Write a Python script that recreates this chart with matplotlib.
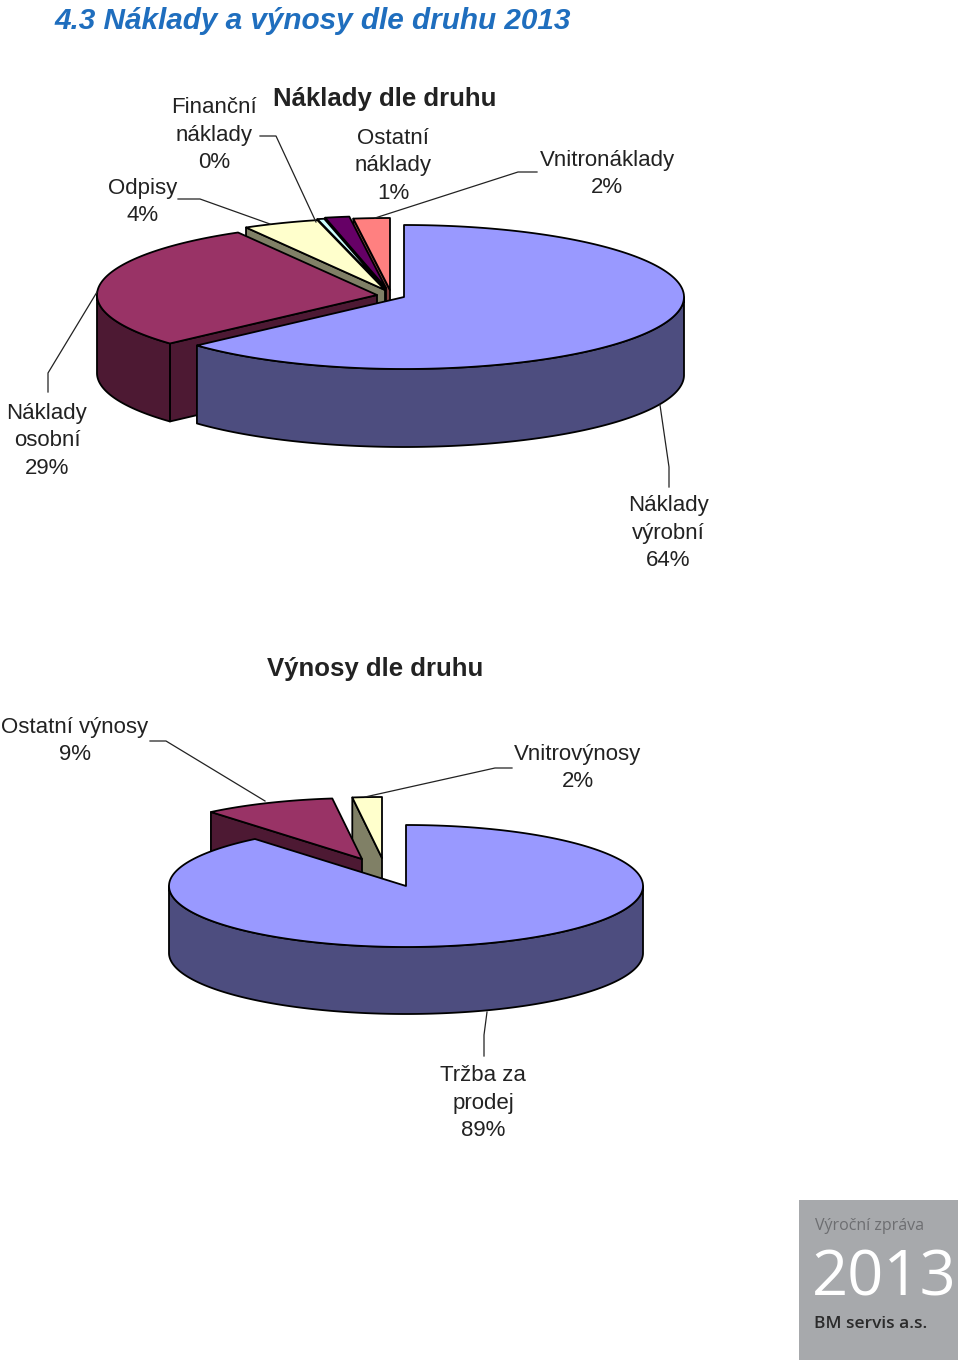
import numpy as np
import matplotlib
matplotlib.use("Agg")
import matplotlib.pyplot as plt

plt.rcParams['font.family'] = ['Liberation Sans', 'DejaVu Sans']

# naklady
cost_names = ["Náklady\nvýrobní", "Náklady\nosobní", "Odpisy", "Finanční\nnáklady", "Ostatní\nnáklady", "Vnitronáklady"]
cost_values = [63.5, 28.6, 4.4, 0.4, 1.4, 2.1]

# vynosy
income_names = ["Tržba za\nprodej", "Ostatní výnosy", "Vnitrovýnosy"]
income_values = [89.0, 9.0, 2.0]

top_colors = ["#9999FF", "#993366", "#FFFFCC", "#CCFFFF", "#660066", "#FF8080"]
wall_colors = ["#4D4D7F", "#4D1933", "#808066", "#668080", "#330033", "#804040"]
income_top = ["#9999FF", "#993366", "#FFFFCC"]
income_wall = ["#4D4D7F", "#4D1933", "#808066"]

# where the tip of each slice sits, slices are pulled apart
cost_tips = [(404, 297), (377, 295), (385, 290), (385, 289), (386, 288), (390, 290)]
income_tips = [(406, 886), (362, 859), (382, 858)]


def rim(cx, cy, rx, ry, a0, a1):
    t = np.radians(np.linspace(a0, a1, max(int(abs(a1 - a0)) * 2, 2)))
    return cx + rx * np.sin(t), cy - ry * np.cos(t)


def draw_slice(ax, tip, rx, ry, depth, a0, a1, top, wall):
    cx, cy = tip
    # cut face on the starting side
    if np.sin(np.radians(a0)) < 0:
        x, y = rim(cx, cy, rx, ry, a0, a0)
        px = [cx, x[0], x[0], cx]
        py = [cy, y[0], y[0] + depth, cy + depth]
        ax.fill(px, py, fc=wall, ec="black", lw=1.3, joinstyle="round")
    # outer wall, only the front half can be seen
    w0, w1 = max(a0, 90), min(a1, 270)
    if w1 > w0:
        x, y = rim(cx, cy, rx, ry, w0, w1)
        px = np.r_[x, x[::-1]]
        py = np.r_[y, y[::-1] + depth]
        ax.fill(px, py, fc=wall, ec="black", lw=1.3, joinstyle="round")
    x, y = rim(cx, cy, rx, ry, a0, a1)
    ax.fill(np.r_[cx, x], np.r_[cy, y], fc=top, ec="black", lw=1.3, joinstyle="round")


def draw_pie(ax, values, tips, rx, ry, depth, tops, walls):
    total = sum(values)
    edges = np.r_[0, np.cumsum(values)] / total * 360
    # back slices first, big one last so it covers the rest
    for i in range(len(values) - 1, -1, -1):
        draw_slice(ax, tips[i], rx, ry, depth, edges[i], edges[i + 1], tops[i], walls[i])


def label(ax, x, y, name, value):
    ax.text(x, y, name + "\n" + "%d%%" % round(value), ha="center", va="center",
            fontsize=16, color="#222222", linespacing=1.43)


fig = plt.figure(figsize=(9.6, 13.62), dpi=100)
ax = fig.add_axes([0, 0, 1, 1])
ax.set_xlim(0, 960)
ax.set_ylim(1362, 0)
ax.axis("off")

ax.text(54, 21, "4.3 Náklady a výnosy dle druhu 2013", fontsize=21.4, color="#1F6EBE",
        fontweight="bold", fontstyle="italic", ha="left", va="center")

ax.text(385, 99, "Náklady dle druhu", fontsize=18.5, fontweight="bold", color="#222222", ha="center", va="center")
ax.text(375, 669, "Výnosy dle druhu", fontsize=18.5, fontweight="bold", color="#222222", ha="center", va="center")

draw_pie(ax, cost_values, cost_tips, 280, 72, 78, top_colors, wall_colors)
draw_pie(ax, income_values, income_tips, 237, 61, 67, income_top, income_wall)

# leader lines
leaders = [
    ([260, 276, 316], [136, 136, 222]),
    ([178, 200, 270], [199, 199, 224]),
    ([537, 518, 375], [172, 172, 218]),
    ([48, 48, 97], [392, 373, 292]),
    ([669, 669, 660], [487, 467, 405]),
    ([150, 166, 265], [741, 741, 801]),
    ([512, 495, 365], [768, 768, 797]),
    ([484, 484, 487], [1056, 1035, 1012]),
]
for lx, ly in leaders:
    ax.plot(lx, ly, color="#222222", lw=0.9)

label(ax, 668, 533, cost_names[0], cost_values[0])
label(ax, 47, 441, cost_names[1], cost_values[1])
label(ax, 143, 202, cost_names[2], cost_values[2])
label(ax, 214, 135, cost_names[3], cost_values[3])
label(ax, 393, 166, cost_names[4], cost_values[4])
label(ax, 607, 174, cost_names[5], cost_values[5])
label(ax, 483, 1103, income_names[0], income_values[0])
label(ax, 75, 741, income_names[1], income_values[1])
label(ax, 578, 768, income_names[2], income_values[2])

# logo
ax.fill([799, 958, 958, 799], [1200, 1200, 1360, 1360], fc="#A7A9AC", ec="none")
ax.text(815, 1226, "Výroční zpráva", fontsize=11.5, color="#6D6E71", family="Open Sans", ha="left", va="center")
ax.text(884, 1279, "2013", fontsize=45.5, color="white", family="Open Sans", ha="center", va="center")
ax.text(814, 1324, "BM servis a.s.", fontsize=12.5, color="#2B2B2B", family="Open Sans", fontweight="semibold", ha="left", va="center")

fig.savefig("out.png", dpi=100)
